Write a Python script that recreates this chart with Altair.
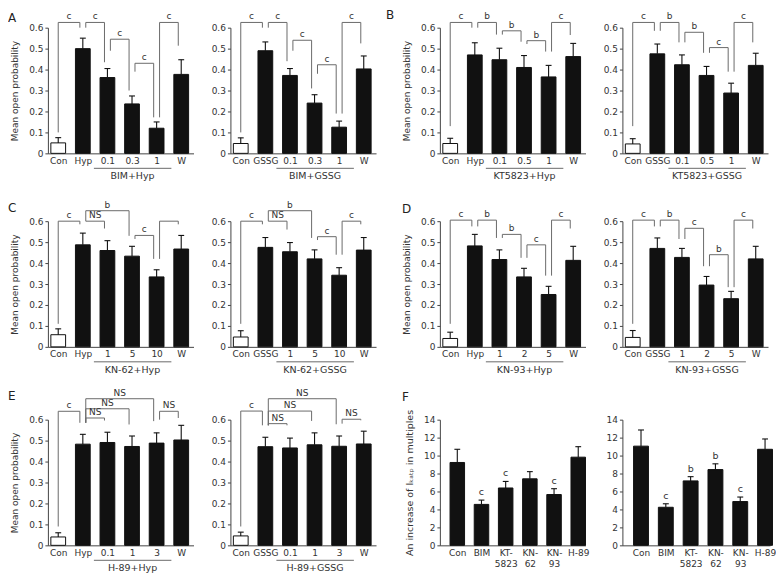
import altair as alt
import pandas as pd

FONT = "DejaVu Sans"
BAR = "#111111"
LINE = "#6a6a6a"
TXT = "#333333"
W = 146
H = 126

# ---------------- data ----------------
# Panel A
A1_cats = ["Con", "Hyp", "0.1", "0.3", "1", "W"]
A1_mean = [0.050, 0.500, 0.362, 0.236, 0.120, 0.377]
A1_top = [0.075, 0.550, 0.405, 0.274, 0.150, 0.447]
A1_brk = [(0, 1, 0.625, 0.10, 0.60, "c"), (1, 2, 0.625, 0.60, 0.435, "c"),
          (2, 3, 0.545, 0.49, 0.30, "c"), (3, 4, 0.43, 0.39, 0.172, "c"),
          (4, 5, 0.625, 0.172, 0.514, "c")]
A2_cats = ["Con", "GSSG", "0.1", "0.3", "1", "W"]
A2_mean = [0.047, 0.490, 0.372, 0.240, 0.125, 0.403]
A2_top = [0.074, 0.532, 0.405, 0.280, 0.154, 0.465]
A2_brk = [(0, 1, 0.625, 0.10, 0.60, "c"), (1, 2, 0.625, 0.60, 0.44, "c"),
          (2, 3, 0.54, 0.49, 0.31, "c"), (3, 4, 0.423, 0.38, 0.19, "c"),
          (4, 5, 0.625, 0.19, 0.525, "c")]
# Panel B
B1_cats = ["Con", "Hyp", "0.1", "0.5", "1", "W"]
B1_mean = [0.047, 0.470, 0.447, 0.410, 0.365, 0.462]
B1_top = [0.072, 0.528, 0.502, 0.467, 0.420, 0.525]
B1_brk = [(0, 1, 0.625, 0.13, 0.60, "c"), (1, 2, 0.625, 0.60, 0.567, "b"),
          (2, 3, 0.585, 0.567, 0.533, "b"), (3, 4, 0.538, 0.522, 0.486, "b"),
          (4, 5, 0.625, 0.486, 0.565, "c")]
B2_cats = ["Con", "GSSG", "0.1", "0.5", "1", "W"]
B2_mean = [0.045, 0.475, 0.423, 0.372, 0.288, 0.420]
B2_top = [0.070, 0.522, 0.470, 0.415, 0.335, 0.478]
B2_brk = [(0, 1, 0.625, 0.13, 0.585, "c"), (1, 2, 0.625, 0.585, 0.53, "b"),
          (2, 3, 0.578, 0.53, 0.48, "b"), (3, 4, 0.505, 0.48, 0.39, "c"),
          (4, 5, 0.625, 0.39, 0.53, "c")]
# Panel C
C1_cats = ["Con", "Hyp", "1", "5", "10", "W"]
C1_mean = [0.058, 0.487, 0.460, 0.433, 0.334, 0.467]
C1_top = [0.086, 0.543, 0.507, 0.480, 0.368, 0.532]
C1_brk = [(0, 1, 0.60, 0.11, 0.585, "c"), (1, 2, 0.60, 0.60, 0.565, "NS"),
          (1, 3, 0.65, 0.60, 0.53, "b"), (3, 4, 0.532, 0.515, 0.42, "c"),
          (4, 5, 0.60, 0.42, 0.585, "")]
C2_cats = ["Con", "GSSG", "1", "5", "10", "W"]
C2_mean = [0.047, 0.475, 0.454, 0.420, 0.342, 0.462]
C2_top = [0.077, 0.522, 0.498, 0.463, 0.378, 0.522]
C2_brk = [(0, 1, 0.60, 0.11, 0.585, "c"), (1, 2, 0.60, 0.60, 0.56, "NS"),
          (1, 3, 0.65, 0.60, 0.52, "b"), (3, 4, 0.526, 0.51, 0.44, "c"),
          (4, 5, 0.60, 0.44, 0.585, "c")]
# Panel D
D1_cats = ["Con", "Hyp", "1", "2", "5", "W"]
D1_mean = [0.040, 0.482, 0.417, 0.334, 0.250, 0.413]
D1_top = [0.070, 0.537, 0.463, 0.375, 0.289, 0.480]
D1_brk = [(0, 1, 0.605, 0.11, 0.575, "c"), (1, 2, 0.605, 0.575, 0.52, "b"),
          (2, 3, 0.537, 0.52, 0.425, "b"), (3, 4, 0.487, 0.425, 0.34, "c"),
          (4, 5, 0.605, 0.34, 0.565, "c")]
D2_cats = ["Con", "GSSG", "1", "2", "5", "W"]
D2_mean = [0.045, 0.470, 0.427, 0.295, 0.230, 0.420]
D2_top = [0.078, 0.520, 0.470, 0.336, 0.265, 0.480]
D2_brk = [(0, 1, 0.605, 0.11, 0.575, "c"), (1, 2, 0.605, 0.575, 0.515, "b"),
          (2, 3, 0.566, 0.515, 0.385, "c"), (3, 4, 0.44, 0.385, 0.285, "b"),
          (4, 5, 0.605, 0.285, 0.565, "c")]
# Panel E
E1_cats = ["Con", "Hyp", "0.1", "1", "3", "W"]
E1_mean = [0.040, 0.483, 0.491, 0.472, 0.488, 0.503]
E1_top = [0.060, 0.530, 0.540, 0.522, 0.537, 0.573]
E1_brk = [(0, 1, 0.64, 0.09, 0.585, "c"), (1, 2, 0.608, 0.585, 0.596, "NS"),
          (1, 3, 0.652, 0.585, 0.577, "NS"), (1, 4, 0.70, 0.585, 0.593, "NS"),
          (4, 5, 0.64, 0.60, 0.608, "NS")]
E2_cats = ["Con", "GSSG", "0.1", "1", "3", "W"]
E2_mean = [0.045, 0.471, 0.465, 0.480, 0.473, 0.484]
E2_top = [0.063, 0.516, 0.512, 0.537, 0.522, 0.545]
E2_brk = [(0, 1, 0.641, 0.09, 0.573, "c"), (1, 2, 0.581, 0.573, 0.573, "NS"),
          (1, 3, 0.641, 0.573, 0.594, "NS"), (1, 4, 0.70, 0.573, 0.578, "NS"),
          (4, 5, 0.602, 0.581, 0.597, "NS")]
# Panel F
F_cats = ["Con", "BIM", "KT-|5823", "KN-|62", "KN-|93", "H-89"]
F1_mean = [9.23, 4.56, 6.39, 7.41, 5.66, 9.82]
F1_top = [10.7, 5.04, 7.12, 8.21, 6.31, 10.99]
F1_sig = ["", "c", "c", "", "c", ""]
F2_mean = [11.05, 4.24, 7.18, 8.44, 4.88, 10.7]
F2_top = [12.85, 4.63, 7.65, 9.08, 5.38, 11.85]
F2_sig = ["", "c", "b", "b", "c", ""]

Y_P = [0, 0.1, 0.2, 0.3, 0.4, 0.5, 0.6]
Y_F = [0, 2, 4, 6, 8, 10, 12, 14]
YT_P = "Mean open probability"
YT_F = "An increase of I\u2096\u2090\u209c\u209a in multiples"


def panel(cats, mean, top, brackets=None, group=None, ytitle=None, letter=None,
          lpos=(-40, -6), ymax=0.6, yvals=Y_P, xdom=(-0.42, 5.5), width=W,
          sig=None, multiline=False, con_white=True, tsize=9):
    n = len(cats)
    pos = list(range(n))
    df = pd.DataFrame({"pos": pos, "mean": mean, "top": top})
    df["x1"] = df["pos"] - 0.3
    df["x2"] = df["pos"] + 0.3
    df["c1"] = df["pos"] - 0.12
    df["c2"] = df["pos"] + 0.12
    df["zero"] = 0.0
    df["fill"] = ["white" if (c == "Con" and con_white) else BAR for c in cats]
    xs = alt.Scale(domain=list(xdom), nice=False, zero=False)
    ys = alt.Scale(domain=[0, ymax], nice=False)
    expr = "[" + ",".join("'%s'" % c for c in cats) + "][datum.value]"
    if multiline:
        expr = "split(%s, '|')" % expr
    xaxis = alt.Axis(values=pos, labelExpr=expr, ticks=False, title=None,
                     labelPadding=3, labelFlush=False, labelOverlap=False,
                     labelLineHeight=11)
    yaxis = alt.Axis(values=yvals, format="~g", tickSize=3, labelPadding=2,
                     labelFlush=False, labelOverlap=False, titlePadding=9,
                     title=ytitle, titleFontSize=tsize)

    def X(f):
        return alt.X(f, scale=xs, axis=xaxis)

    def Y(f):
        return alt.Y(f, scale=ys, axis=yaxis)

    base = alt.Chart(df)
    layers = [
        base.mark_bar(stroke=BAR, strokeWidth=1).encode(
            x=X("x1:Q"), x2="x2:Q", y=Y("mean:Q"), y2="zero:Q",
            fill=alt.Fill("fill:N", scale=None)),
        base.mark_rule(color=BAR, strokeWidth=1.1).encode(
            x=X("pos:Q"), y=Y("mean:Q"), y2="top:Q"),
        base.mark_rule(color=BAR, strokeWidth=1.1).encode(
            x=X("c1:Q"), x2="c2:Q", y=Y("top:Q")),
    ]
    if brackets:
        segs, labs = [], []
        for (i, j, t, bi, bj, lab) in brackets:
            xl = i + (0.12 if i > 0 else 0.0)
            xr = j - 0.12
            segs += [(xl, bi, xl, t), (xl, t, xr, t), (xr, t, xr, bj)]
            labs.append(((xl + xr) / 2, t, lab))
        sdf = pd.DataFrame(segs, columns=["xa", "ya", "xb", "yb"])
        ldf = pd.DataFrame(labs, columns=["xm", "t", "lab"])
        layers.append(alt.Chart(sdf).mark_rule(color=LINE, strokeWidth=1).encode(
            x=X("xa:Q"), x2="xb:Q", y=Y("ya:Q"), y2="yb:Q"))
        layers.append(alt.Chart(ldf).mark_text(
            baseline="bottom", dy=-1, fontSize=9, color=TXT, font=FONT).encode(
            x=X("xm:Q"), y=Y("t:Q"), text="lab:N"))
    if sig:
        sdf2 = pd.DataFrame({"pos": pos, "top": top, "sig": sig})
        layers.append(alt.Chart(sdf2).mark_text(
            baseline="bottom", dy=-3, fontSize=9.5, color=TXT, font=FONT).encode(
            x=X("pos:Q"), y=Y("top:Q"), text="sig:N"))
    if group:
        gdf = pd.DataFrame({"a": [1.45], "b": [4.6], "m": [3.02], "g": [group]})
        layers.append(alt.Chart(gdf).mark_rule(color=LINE, strokeWidth=1).encode(
            x=X("a:Q"), x2="b:Q", y=alt.value(H + 15)))
        layers.append(alt.Chart(gdf).mark_text(
            baseline="top", fontSize=9.5, color=TXT, font=FONT).encode(
            x=X("m:Q"), y=alt.value(H + 18), text="g:N"))
    if letter:
        tdf = pd.DataFrame({"l": [letter]})
        layers.append(alt.Chart(tdf).mark_text(
            align="left", baseline="alphabetic", fontSize=12, color="#222",
            font=FONT).encode(x=alt.value(lpos[0]), y=alt.value(lpos[1]), text="l:N"))
    return alt.layer(*layers).properties(width=width, height=H)


def sp(w, h):
    return alt.Chart(pd.DataFrame({"v": [0]})).mark_point(opacity=0, size=1).encode(
        x=alt.X("v:Q", axis=None), y=alt.Y("v:Q", axis=None)).properties(width=w, height=h)


A1 = panel(A1_cats, A1_mean, A1_top, A1_brk, "BIM+Hyp", YT_P, "A", (-40, -6))
A2 = panel(A2_cats, A2_mean, A2_top, A2_brk, "BIM+GSSG")
B1 = panel(B1_cats, B1_mean, B1_top, B1_brk, "KT5823+Hyp", YT_P, "B", (-54, -9))
B2 = panel(B2_cats, B2_mean, B2_top, B2_brk, "KT5823+GSSG")
C1 = panel(C1_cats, C1_mean, C1_top, C1_brk, "KN-62+Hyp", YT_P, "C", (-40, -9))
C2 = panel(C2_cats, C2_mean, C2_top, C2_brk, "KN-62+GSSG")
D1 = panel(D1_cats, D1_mean, D1_top, D1_brk, "KN-93+Hyp", YT_P, "D", (-38, -8))
D2 = panel(D2_cats, D2_mean, D2_top, D2_brk, "KN-93+GSSG")
E1 = panel(E1_cats, E1_mean, E1_top, E1_brk, "H-89+Hyp", YT_P, "E", (-40, -20))
E2 = panel(E2_cats, E2_mean, E2_top, E2_brk, "H-89+GSSG")
F1 = panel(F_cats, F1_mean, F1_top, None, None, YT_F, "F", (-38, -19), ymax=14,
           yvals=Y_F, xdom=(-0.72, 5.3), sig=F1_sig, multiline=True,
           con_white=False, tsize=9.5)
F2 = panel(F_cats, F2_mean, F2_top, None, None, None, None, ymax=14,
           yvals=Y_F, xdom=(-0.75, 5.2), width=148, sig=F2_sig, multiline=True,
           con_white=False)

IN, OUT = 37, 64
cells = [A1, sp(IN, 1), A2, sp(OUT, 1), B1, sp(IN, 1), B2]
cells += [sp(1, 68)] * 7
cells += [C1, sp(IN, 1), C2, sp(OUT, 1), D1, sp(IN, 1), D2]
cells += [sp(1, 73)] * 7
cells += [E1, sp(IN, 1), E2, sp(OUT, 1), F1, sp(IN, 1), F2]

chart = alt.concat(*cells, columns=7, spacing=0, bounds="flush",
                   padding=0).configure_view(
    stroke=None).configure_axis(
    labelFont=FONT, labelFontSize=9, labelColor=TXT, titleFont=FONT,
    titleFontSize=9, titleColor=TXT, titleFontWeight="normal",
    domainColor="#444", tickColor="#444", grid=False).configure_text(font=FONT)

chart.save("out.html", embed_options={"renderer": "svg", "actions": False})
